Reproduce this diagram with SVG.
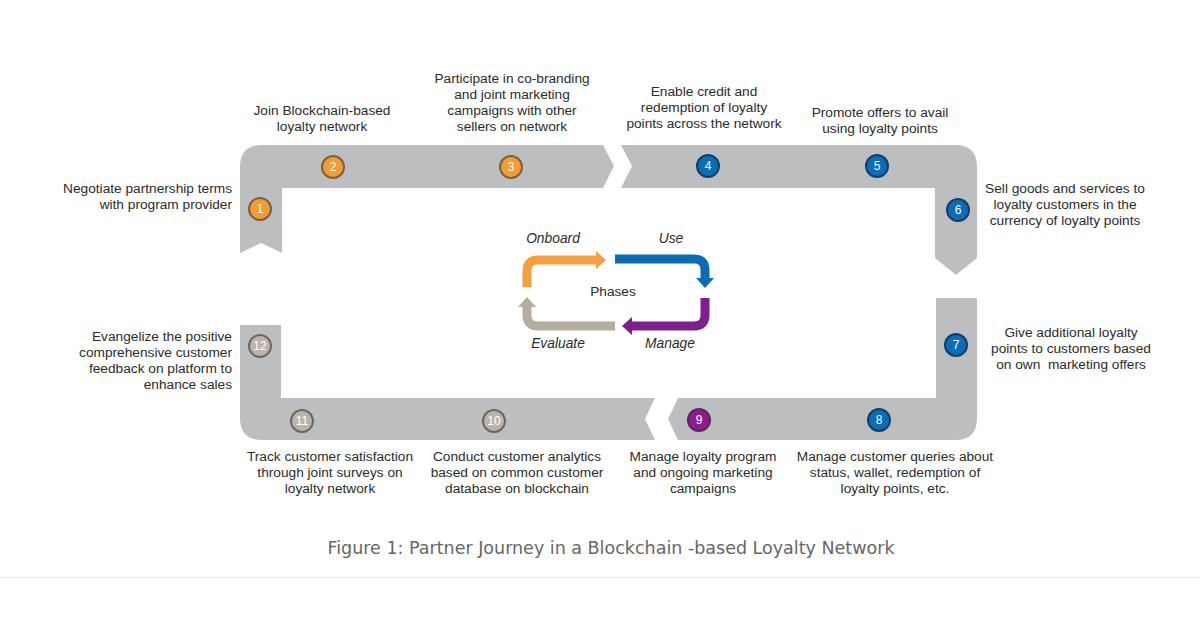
<svg xmlns="http://www.w3.org/2000/svg" width="1200" height="628" viewBox="0 0 1200 628">
<style>
.band{fill:#bcbec0}
.lbl{font-family:"Liberation Sans",Arial,sans-serif;font-size:13.7px;fill:#2b2b2b}
.ph{font-family:"Liberation Sans",Arial,sans-serif;font-size:13.8px;fill:#2b2b2b;font-style:italic}
.num{font-family:"Liberation Sans",Arial,sans-serif;font-size:12px;fill:#ffffff;text-anchor:middle}
.c-or{fill:#f39c33;stroke:#7d6040;stroke-width:2}
.c-bl{fill:#0b6db7;stroke:#123e66;stroke-width:2}
.c-gr{fill:#bdb4a6;stroke:#6b6864;stroke-width:2}
.c-pu{fill:#8e1b8f;stroke:#5a2a5a;stroke-width:2}
.arr{fill:none;stroke-width:9}
</style>
<rect width="1200" height="628" fill="#ffffff"/>
<g id="bands">
<path class="band" d="M240,253 L240,167 Q240,145 262,145 L603,145 L614,166 L603,188 L282,188 L282,253 L261,243 Z"/>
<path class="band" d="M621,145 L955,145 Q977,145 977,167 L977,258 L956,275 L935,258 L935,188 L621,188 L632,166 Z"/>
<path class="band" d="M936,298 L977,298 L977,418 Q977,440 955,440 L678,440 L668,419 L678,398 L936,398 Z"/>
<path class="band" d="M240,325 L281,325 L281,398 L655,398 L645,419 L655,440 L262,440 Q240,440 240,418 Z"/>
</g>
<g id="connectors">
<path class="arr" stroke="#f5a040" d="M527,287 L527,271 Q527,260 538,260 L597,260"/>
<polygon fill="#f5a040" points="596,251 606,260 596,269"/>
<path class="arr" stroke="#0a6cb5" d="M615,259 L694,259 Q705,259 705,270 L705,279"/>
<polygon fill="#0a6cb5" points="696,278 705,288 714,278"/>
<path class="arr" stroke="#7e1f8e" d="M705,298 L705,315 Q705,326 694,326 L631,326"/>
<polygon fill="#7e1f8e" points="632,317 622,326 632,335"/>
<path class="arr" stroke="#b5ad9f" d="M615,326 L538,326 Q527,326 527,315 L527,307"/>
<polygon fill="#b5ad9f" points="518,307 527,297 536,307"/>
</g>
<g id="phases">
<text class="ph" x="553" y="243" text-anchor="middle">Onboard</text>
<text class="ph" x="671" y="243" text-anchor="middle">Use</text>
<text class="lbl" x="613" y="296" text-anchor="middle">Phases</text>
<text class="ph" x="558" y="348" text-anchor="middle">Evaluate</text>
<text class="ph" x="670" y="348" text-anchor="middle">Manage</text>
</g>
<g id="step1"><circle class="c-or" cx="260" cy="209" r="11"/><text class="num" x="260" y="213">1</text>
<text class="lbl" text-anchor="end"><tspan x="232" y="193">Negotiate partnership terms</tspan><tspan x="232" y="209">with program provider</tspan></text></g>
<g id="step2"><circle class="c-or" cx="333" cy="167" r="11"/><text class="num" x="333" y="171">2</text>
<text class="lbl" text-anchor="middle"><tspan x="322" y="115">Join Blockchain-based</tspan><tspan x="322" y="131">loyalty network</tspan></text></g>
<g id="step3"><circle class="c-or" cx="511" cy="167" r="11"/><text class="num" x="511" y="171">3</text>
<text class="lbl" text-anchor="middle"><tspan x="512" y="83">Participate in co-branding</tspan><tspan x="512" y="99">and joint marketing</tspan><tspan x="512" y="115">campaigns with other</tspan><tspan x="512" y="131">sellers on network</tspan></text></g>
<g id="step4"><circle class="c-bl" cx="708" cy="166" r="11"/><text class="num" x="708" y="170">4</text>
<text class="lbl" text-anchor="middle"><tspan x="704" y="96">Enable credit and</tspan><tspan x="704" y="112">redemption of loyalty</tspan><tspan x="704" y="128">points across the network</tspan></text></g>
<g id="step5"><circle class="c-bl" cx="877" cy="166" r="11"/><text class="num" x="877" y="170">5</text>
<text class="lbl" text-anchor="middle"><tspan x="880" y="117">Promote offers to avail</tspan><tspan x="880" y="133">using loyalty points</tspan></text></g>
<g id="step6"><circle class="c-bl" cx="958" cy="210" r="11"/><text class="num" x="958" y="214">6</text>
<text class="lbl" text-anchor="middle"><tspan x="1065" y="193">Sell goods and services to</tspan><tspan x="1065" y="209">loyalty customers in the</tspan><tspan x="1065" y="225">currency of loyalty points</tspan></text></g>
<g id="step7"><circle class="c-bl" cx="956" cy="345" r="11"/><text class="num" x="956" y="349">7</text>
<text class="lbl" text-anchor="middle" xml:space="preserve"><tspan x="1071" y="337">Give additional loyalty</tspan><tspan x="1071" y="353">points to customers based</tspan><tspan x="1071" y="369">on own  marketing offers</tspan></text></g>
<g id="step8"><circle class="c-bl" cx="879" cy="420" r="11"/><text class="num" x="879" y="424">8</text>
<text class="lbl" text-anchor="middle"><tspan x="895" y="461">Manage customer queries about</tspan><tspan x="895" y="477">status, wallet, redemption of</tspan><tspan x="895" y="493">loyalty points, etc.</tspan></text></g>
<g id="step9"><circle class="c-pu" cx="699" cy="420" r="11"/><text class="num" x="699" y="424">9</text>
<text class="lbl" text-anchor="middle"><tspan x="703" y="461">Manage loyalty program</tspan><tspan x="703" y="477">and ongoing marketing</tspan><tspan x="703" y="493">campaigns</tspan></text></g>
<g id="step10"><circle class="c-gr" cx="494" cy="421" r="11"/><text class="num" x="494" y="425">10</text>
<text class="lbl" text-anchor="middle"><tspan x="517" y="461">Conduct customer analytics</tspan><tspan x="517" y="477">based on common customer</tspan><tspan x="517" y="493">database on blockchain</tspan></text></g>
<g id="step11"><circle class="c-gr" cx="302" cy="421" r="11"/><text class="num" x="302" y="425">11</text>
<text class="lbl" text-anchor="middle"><tspan x="330" y="461">Track customer satisfaction</tspan><tspan x="330" y="477">through joint surveys on</tspan><tspan x="330" y="493">loyalty network</tspan></text></g>
<g id="step12"><circle class="c-gr" cx="260" cy="346" r="11"/><text class="num" x="260" y="350">12</text>
<text class="lbl" text-anchor="end"><tspan x="232" y="341">Evangelize the positive</tspan><tspan x="232" y="357">comprehensive customer</tspan><tspan x="232" y="373">feedback on platform to</tspan><tspan x="232" y="389">enhance sales</tspan></text></g>
<g id="caption">
<text x="611" y="554" text-anchor="middle" font-family="DejaVu Sans, Verdana, sans-serif" font-size="17.5" fill="#666666">Figure 1: Partner Journey in a Blockchain -based Loyalty Network</text>
<line x1="0" y1="577.5" x2="1200" y2="577.5" stroke="#e6e6e6" stroke-width="1"/>
</g>
</svg>
